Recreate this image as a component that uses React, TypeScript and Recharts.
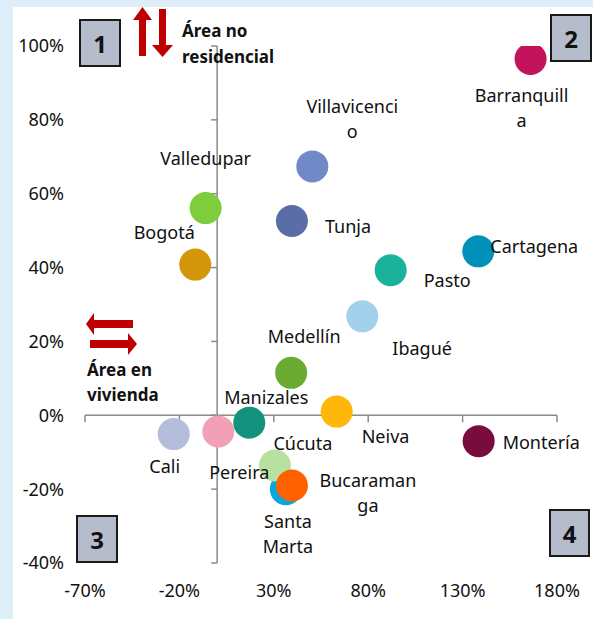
import React from 'react'
import { ScatterChart, Scatter, XAxis, YAxis, ReferenceLine, ReferenceDot } from 'recharts'

// ── Data ──────────────────────────────────────────────────────────────────────
const cities = [
  'Barranquilla', 'Villavicencio', 'Valledupar', 'Tunja', 'Bogotá', 'Cartagena',
  'Pasto', 'Ibagué', 'Medellín', 'Neiva', 'Manizales', 'Montería', 'Cali',
  'Pereira', 'Santa Marta', 'Cúcuta', 'Bucaramanga',
]
// variación área en vivienda (%)
const xValues = [166, 50.4, -6.1, 39.6, -11.6, 138.3, 91.9, 76.9, 39.2, 63.3, 17, 138.5, -23, 0.6, 36.4, 30.6, 39.6]
// variación área no residencial (%)
const yValues = [96.5, 67.4, 56.1, 52.6, 40.8, 44.4, 39.3, 26.8, 11.5, 1.0, -2.0, -7.0, -5.1, -4.4, -20.0, -13.6, -19.0]
const colors = [
  '#c2135c', '#7189c9', '#7dcd3c', '#5b6da6', '#d4970b', '#0190b8',
  '#1bb29d', '#a3d1eb', '#6aab31', '#ffb709', '#13917c', '#770c3d', '#b4bddc',
  '#f1a0b5', '#04a7df', '#b8e1a1', '#ff6100',
]
const labelLines: Record<string, string[]> = {
  Barranquilla: ['Barranquill', 'a'],
  Villavicencio: ['Villavicenci', 'o'],
  'Santa Marta': ['Santa', 'Marta'],
  Bucaramanga: ['Bucaraman', 'ga'],
}
const X_TICKS = [-70, -20, 30, 80, 130, 180]
const Y_TICKS = [-40, -20, 0, 20, 40, 60, 80, 100]

// label placement relative to the bubble (px)
const LABEL_POS: Record<string, { dx: number; dy: number; anchor: 'start' | 'middle' }> = {
  Barranquilla: { dx: -9, dy: 36, anchor: 'middle' },
  Villavicencio: { dx: 40, dy: -60, anchor: 'middle' },
  Valledupar: { dx: 0, dy: -50, anchor: 'middle' },
  Tunja: { dx: 33, dy: 5, anchor: 'start' },
  'Bogotá': { dx: -31, dy: -33, anchor: 'middle' },
  Cartagena: { dx: 12, dy: -5, anchor: 'start' },
  Pasto: { dx: 33, dy: 10, anchor: 'start' },
  'Ibagué': { dx: 30, dy: 32, anchor: 'start' },
  'Medellín': { dx: 13, dy: -37, anchor: 'middle' },
  Neiva: { dx: 25, dy: 24, anchor: 'start' },
  Manizales: { dx: 17, dy: -26, anchor: 'middle' },
  'Montería': { dx: 24, dy: 1, anchor: 'start' },
  Cali: { dx: -9, dy: 32, anchor: 'middle' },
  Pereira: { dx: 21, dy: 40, anchor: 'middle' },
  'Santa Marta': { dx: 2, dy: 32, anchor: 'middle' },
  'Cúcuta': { dx: 28, dy: -23, anchor: 'middle' },
  Bucaramanga: { dx: 76, dy: -5, anchor: 'middle' },
}

const data = cities.map((name, i) => ({ name, x: xValues[i], y: yValues[i], color: colors[i] }))

const FONT = '"Noto Sans", "Open Sans", sans-serif'
const AXIS_GRAY = '#8a8a8a'
const fmtPct = (v: number) => `${v}%`

// ── Shapes ────────────────────────────────────────────────────────────────────
function Bubble(p: any) {
  return <circle cx={p.cx} cy={p.cy} r={16} fill={p.payload.color} />
}

function CityLabel(p: any) {
  const name: string = p.payload.name
  const pos = LABEL_POS[name]
  const lines = labelLines[name] ?? [name]
  return (
    <g>
      {lines.map((l, i) => (
        <text
          key={i}
          x={p.cx + pos.dx}
          y={p.cy + pos.dy + i * 25}
          textAnchor={pos.anchor}
          dominantBaseline="central"
          fontSize={18}
          fontFamily={FONT}
          fill="#111"
        >
          {l}
        </text>
      ))}
    </g>
  )
}

const XTickMark = (p: any) => (
  <line x1={p.cx} y1={p.cy} x2={p.cx} y2={p.cy + 7} stroke={AXIS_GRAY} strokeWidth={1.5} />
)
const YTickMark = (p: any) => (
  <line x1={p.cx - 6} y1={p.cy} x2={p.cx} y2={p.cy} stroke={AXIS_GRAY} strokeWidth={1.5} />
)

// ── Annotations ───────────────────────────────────────────────────────────────
function QuadBox({ left, top, w, h, n }: { left: number; top: number; w: number; h: number; n: string }) {
  return (
    <div style={{
      position: 'absolute', left, top, width: w - 4, height: h - 4,
      background: '#b5bccb', border: '2px solid #1a1a1a',
      display: 'flex', alignItems: 'center', justifyContent: 'center',
      fontFamily: FONT, fontWeight: 700, fontSize: 24, color: '#111',
    }}>
      {n}
    </div>
  )
}

function Annotations() {
  const red = '#c00000'
  return (
    <>
      <svg width={593} height={619} style={{ position: 'absolute', left: 0, top: 0, pointerEvents: 'none' }}>
        {/* vertical arrows */}
        <polygon fill={red} points="133,20 142.5,7 152,20 146,20 146,56 139,56 139,20" />
        <polygon fill={red} points="152,45 162.5,57 173,45 166,45 166,9 159,9 159,45" />
        {/* horizontal arrows */}
        <polygon fill={red} points="86,324 94,313 94,320 133,320 133,328 94,328 94,335" />
        <polygon fill={red} points="137,344 128,333 128,340 90,340 90,348 128,348 128,355" />
        <g fontFamily={FONT} fontWeight={700} fontSize={17} fill="#111">
          <text x={182} y={37}>Área no</text>
          <text x={182} y={63}>residencial</text>
          <text x={87} y={376}>Área en</text>
          <text x={87} y={401}>vivienda</text>
        </g>
      </svg>
      <QuadBox left={79} top={19} w={42} h={48} n="1" />
      <QuadBox left={550} top={14} w={42} h={48} n="2" />
      <QuadBox left={76} top={515} w={42} h={48} n="3" />
      <QuadBox left={549} top={509} w={41} h={48} n="4" />
    </>
  )
}

// ── Chart ─────────────────────────────────────────────────────────────────────
export default function App() {
  const tickStyle = { fontSize: 18, fill: '#111', fontFamily: FONT }
  return (
    <div style={{ position: 'absolute', left: 0, top: 0, width: 593, height: 619, background: '#deeef8', overflow: 'hidden' }}>
      <div style={{ position: 'absolute', left: 13, top: 7, right: 0, bottom: 0, background: '#fff' }} />
      <div style={{ position: 'absolute', left: 0, top: 0 }}>
        <ScatterChart width={593} height={619} margin={{ top: 46, right: 36, bottom: 16, left: 25 }}>
          <XAxis
            dataKey="x" type="number" domain={[-70, 180]} ticks={X_TICKS} interval={0}
            axisLine={false} tickLine={false} tickSize={0} tickMargin={21} height={40}
            tick={tickStyle} tickFormatter={fmtPct}
          />
          <YAxis
            yAxisId="y" dataKey="y" type="number" domain={[-40, 100]} ticks={Y_TICKS} interval={0}
            axisLine={false} tickLine={false} tickSize={0} tickMargin={21} width={60}
            tick={tickStyle} tickFormatter={fmtPct}
          />
          {/* hidden twin axis, only to clip the bubbles at the plot edge */}
          <YAxis yAxisId="c" orientation="right" width={0} dataKey="y" type="number" domain={[-40, 100]} allowDataOverflow hide />

          <ReferenceLine yAxisId="y" y={0} stroke={AXIS_GRAY} strokeWidth={1.5} />
          <ReferenceLine yAxisId="y" x={0} stroke={AXIS_GRAY} strokeWidth={1.5} />
          {X_TICKS.map(t => (
            <ReferenceDot key={'xt' + t} yAxisId="y" x={t} y={0} r={0} shape={XTickMark} />
          ))}
          {Y_TICKS.map(t => (
            <ReferenceDot key={'yt' + t} yAxisId="y" x={0} y={t} r={0} shape={YTickMark} />
          ))}

          <Scatter yAxisId="c" data={data} shape={Bubble} isAnimationActive={false} />
          <Scatter yAxisId="y" data={data} shape={CityLabel} isAnimationActive={false} />
        </ScatterChart>
      </div>
      <Annotations />
    </div>
  )
}
